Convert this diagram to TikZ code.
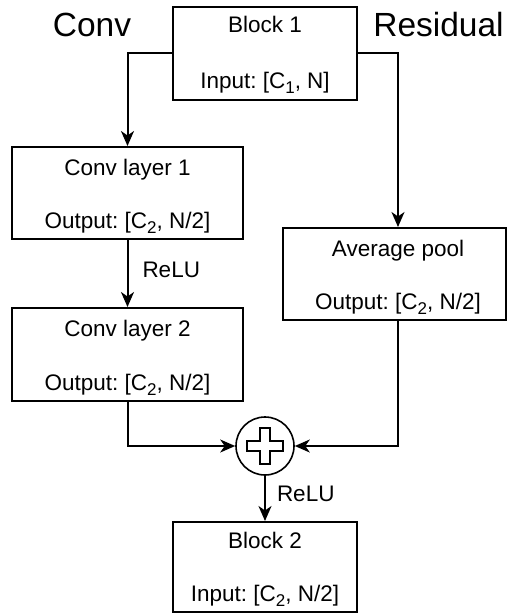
\documentclass[tikz,border=0pt]{standalone}
\usepackage{fontspec}
\setmainfont{Liberation Sans}
\usetikzlibrary{arrows.meta,calc}
\frenchspacing

\tikzset{
  blockbox/.style={draw, line width=2pt, rectangle, inner sep=0pt},
  boxtext/.style={font=\fontsize{22.5}{26}\selectfont, anchor=base, inner sep=0pt},
  headtext/.style={font=\fontsize{33.5}{38}\selectfont, anchor=base, inner sep=0pt},
  flow/.style={line width=2pt, -{Stealth[length=15pt,width=13pt,inset=4.5pt]}},
  sumcircle/.style={draw, circle, line width=1.6pt, minimum size=58pt, inner sep=0pt},
}
% lowered index digit, as in C_1
\newcommand{\sub}[1]{\raisebox{-5pt}{\fontsize{17}{17}\selectfont #1}}

\begin{document}
\begin{tikzpicture}[x=1pt,y=-1pt]
  \useasboundingbox (0,0) rectangle (507,615);

  % column headings
  \node[headtext] (hconv) at (92,37) {Conv};
  \node[headtext] (hres) at (438.5,37) {Residual};

  % boxes
  \node[blockbox, minimum width=184pt, minimum height=93pt] (b1) at (265,53.5) {};
  \node[blockbox, minimum width=231pt, minimum height=92pt] (c1) at (127.5,193) {};
  \node[blockbox, minimum width=231pt, minimum height=93pt] (c2) at (127.5,354.5) {};
  \node[blockbox, minimum width=223pt, minimum height=92pt] (avg) at (394.5,274) {};
  \node[blockbox, minimum width=184pt, minimum height=90pt] (b2) at (265,567) {};

  % box texts
  \node[boxtext] (b1t) at ($(b1.north)+(0,27)$) {Block 1};
  \node[boxtext] (b1b) at ($(b1.south)+(0,-12)$) {Input: [C\sub{1}, N]};
  \node[boxtext] (c1t) at ($(c1.north)+(0,29)$) {Conv layer 1};
  \node[boxtext] (c1b) at ($(c1.south)+(0,-12)$) {Output: [C\sub{2}, N/2]};
  \node[boxtext] (c2t) at ($(c2.north)+(0,29)$) {Conv layer 2};
  \node[boxtext] (c2b) at ($(c2.south)+(0,-12)$) {Output: [C\sub{2}, N/2]};
  \node[boxtext] (avgt) at ($(avg.north)+(3.5,29)$) {Average pool};
  \node[boxtext] (avgb) at ($(avg.south)+(3.5,-12)$) {Output: [C\sub{2}, N/2]};
  \node[boxtext] (b2t) at ($(b2.north)+(0,27)$) {Block 2};
  \node[boxtext] (b2b) at ($(b2.south)+(0,-12)$) {Input: [C\sub{2}, N/2]};

  % summation node with outlined cross
  \node[sumcircle] (sum) at (265,446) {};
  \draw[line width=1.6pt] ($(sum.center)+(-5,-18)$) -- ++(10,0) -- ++(0,13) -- ++(13,0)
    -- ++(0,10) -- ++(-13,0) -- ++(0,13) -- ++(-10,0) -- ++(0,-13) -- ++(-13,0)
    -- ++(0,-10) -- ++(13,0) -- cycle;

  % routing points
  \coordinate (lc) at (127.5,53.5);
  \coordinate (rc) at (398,53.5);

  % connectors
  \draw[flow] (b1.west) -- (lc) -- (c1.north);
  \draw[flow] (b1.east) -- (rc) -- (rc |- avg.north);
  \draw[flow] (c1.south) -- node[pos=0.45, anchor=west, xshift=14pt, font=\fontsize{22.5}{26}\selectfont, inner sep=0pt] (relu1) {ReLU} (c2.north);
  \draw[flow] (c2.south) |- (sum.west);
  \draw[flow] (rc |- avg.south) |- (sum.east);
  \draw[flow] (sum.south) -- node[pos=0.4, anchor=west, xshift=11pt, font=\fontsize{22.5}{26}\selectfont, inner sep=0pt] (relu2) {ReLU} (b2.north);
\end{tikzpicture}
\end{document}
